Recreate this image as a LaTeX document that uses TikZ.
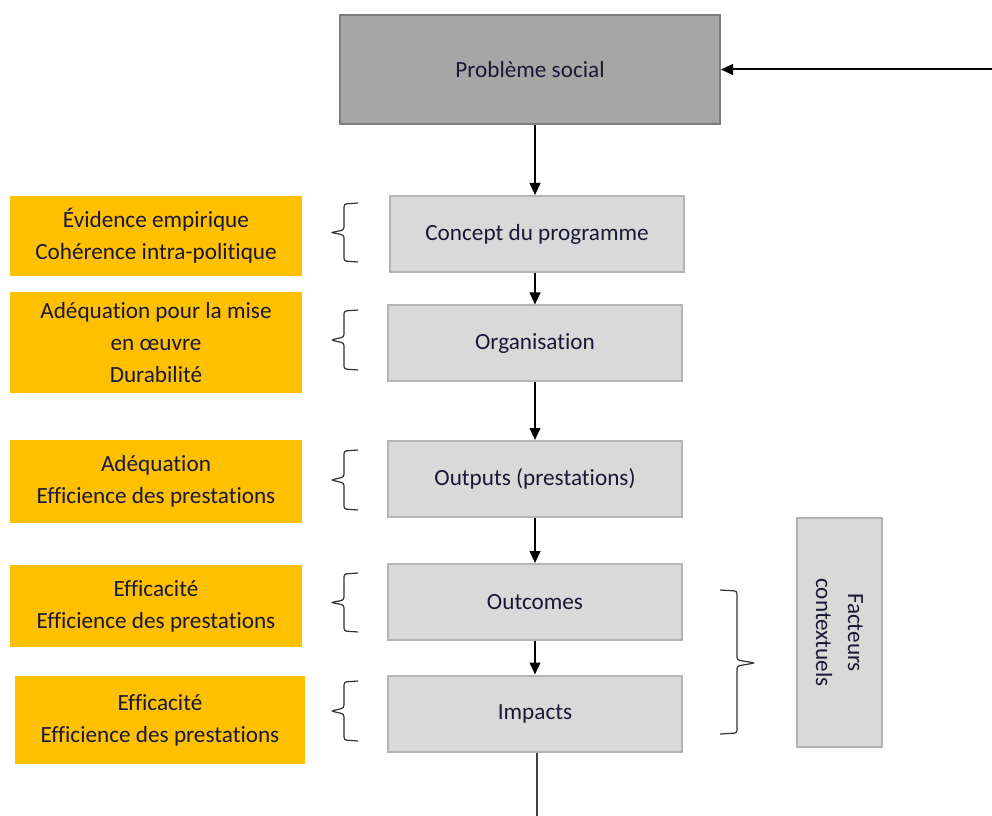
\documentclass[tikz,border=0pt]{standalone}
\usepackage{fontspec}
\setmainfont[Ligatures=NoCommon]{Carlito}
\usetikzlibrary{arrows.meta}

\definecolor{txtnavy}{RGB}{25,25,55}
\definecolor{orangecrit}{RGB}{255,192,0}
\definecolor{grisclair}{RGB}{217,217,217}
\definecolor{grisbord}{RGB}{180,180,180}
\definecolor{grisfonce}{RGB}{166,166,166}
\definecolor{grisfoncebord}{RGB}{125,125,125}

\tikzset{every picture/.style={line width=0.75pt}}
\tikzset{
  etape/.style={draw=grisbord,fill=grisclair,line width=1.5pt,inner sep=0pt,
    minimum width=221pt,minimum height=57pt,text=txtnavy,align=center,
    font=\fontsize{17.4}{24}\selectfont},
  critere/.style={fill=orangecrit,inner sep=0pt,minimum width=219pt,
    text=txtnavy,align=center,font=\fontsize{17.4}{24}\selectfont},
  fleche/.style={line width=1.5pt,-{Triangle[length=9pt,width=8pt]}},
  accolade/.style={draw=black!80,line width=0.9pt,rounded corners=2pt},
}

\begin{document}
\begin{tikzpicture}[x=0.75pt,y=0.75pt,yscale=-1,xscale=1]
\useasboundingbox (0,0) rectangle (992,816);

%Shape: Rectangle [probleme]
\node [etape,draw=grisfoncebord,fill=grisfonce,minimum width=285pt,minimum height=82pt] (probleme) at (530,69.5) {Problème social};
%Shape: Rectangle [etapes du programme]
\node [etape] (concept) at (537,234) {Concept du programme};
\node [etape] (organisation) at (535,343.5) {Organisation};
\node [etape] (outputs) at (535,479) {Outputs (prestations)};
\node [etape] (outcomes) at (535,602) {Outcomes};
\node [etape] (impacts) at (535,713.5) {Impacts};

%Shape: Rectangle [facteurs]
\node [etape,minimum width=171.75pt,minimum height=63.75pt,rotate=-90] (facteurs) at (839.5,632.5) {Facteurs\\contextuels};

% Text Node [criteres]
\node [critere,minimum height=60pt] (evidence) at (156,236) {Évidence empirique\\Cohérence intra-politique};
\node [critere,minimum height=76pt] (miseoeuvre) at (156,342.5) {Adéquation pour la mise\\en œuvre\\Durabilité};
\node [critere,minimum height=62pt] (adequation) at (156,481.5) {Adéquation\\Efficience des prestations};
\node [critere,minimum height=61.5pt] (efficacite) at (156,606) {Efficacité\\Efficience des prestations};
\node [critere,minimum width=217.5pt,minimum height=66pt] (efficacitebis) at (160,720) {Efficacité\\Efficience des prestations};

%Straight Lines [fleches]
\coordinate (entree) at (992,69.5);
\coordinate (sortie) at (537,816);
\draw [fleche] (entree) -- (probleme.east);
\draw [fleche] (probleme.south -| organisation.north) -- (concept.north -| organisation.north);
\draw [fleche] (concept.south -| organisation.north) -- (organisation.north);
\draw [fleche] (organisation.south) -- (outputs.north);
\draw [fleche] (outputs.south) -- (outcomes.north);
\draw [fleche] (outcomes.south) -- (impacts.north);
\draw [color=black!75,line width=1.1pt] (impacts.south -| sortie) -- (sortie);

%Braces [accolades]
\draw [accolade] (358,203) -- (344,204) -- (344,230) -- (331,232.5) -- (344,235) -- (344,261) -- (358,262);
\draw [accolade] (358,310) -- (344,311) -- (344,337) -- (331,340) -- (344,343) -- (344,369) -- (358,370);
\draw [accolade] (358,450) -- (344,451) -- (344,477) -- (331,480) -- (344,483) -- (344,509) -- (358,510);
\draw [accolade] (358,573) -- (344,574) -- (344,600) -- (331,602.5) -- (344,605) -- (344,631) -- (358,632);
\draw [accolade] (358,681) -- (344,682) -- (344,708) -- (331,711) -- (344,714) -- (344,740) -- (358,741);
\draw [accolade] (720,590) -- (737,591) -- (737,660) -- (755,663) -- (737,666) -- (737,733) -- (720,734);

\end{tikzpicture}
\end{document}
